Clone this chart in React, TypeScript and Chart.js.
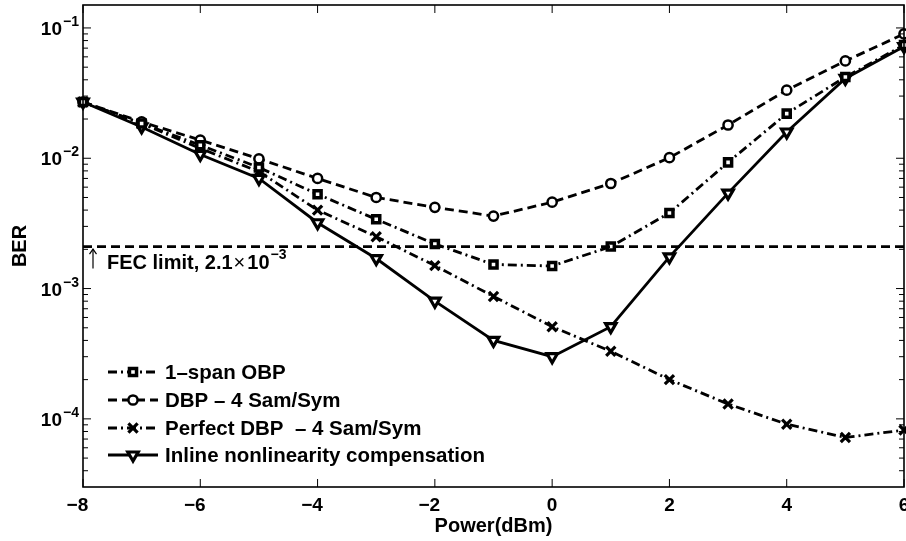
import React, { useEffect, useRef } from 'react';
import { Chart, registerables } from 'chart.js';

Chart.register(...registerables);

// ---- data ----
const powers = [-8, -7, -6, -5, -4, -3, -2, -1, 0, 1, 2, 3, 4, 5, 6];
const obpBer = [0.027, 0.0185, 0.0126, 0.0085, 0.0053, 0.0034, 0.0022, 0.00153, 0.00149, 0.0021, 0.0038, 0.0093, 0.022, 0.042, 0.074];
const dbpBer = [0.027, 0.019, 0.0138, 0.0099, 0.007, 0.005, 0.0042, 0.0036, 0.0046, 0.0064, 0.0101, 0.018, 0.0333, 0.0558, 0.09];
const perfectDbpBer = [0.027, 0.0185, 0.0119, 0.0079, 0.004, 0.0025, 0.0015, 0.00087, 0.00051, 0.00033, 0.0002, 0.00013, 0.000091, 0.000072, 0.000082];
const inlineBer = [0.027, 0.0174, 0.0107, 0.007, 0.0032, 0.0017, 0.0008, 0.0004, 0.0003, 0.00051, 0.00175, 0.0054, 0.0159, 0.041, 0.072];
const fecLimit = 2.1e-3;
const fecRange = [-8, 6];
const seriesLabels = ['1–span OBP', 'DBP – 4 Sam/Sym', 'Perfect DBP  – 4 Sam/Sym', 'Inline nonlinearity compensation'];
const xTickValues = [-8, -6, -4, -2, 0, 2, 4, 6];
const yDecadeExponents = [-4, -3, -2, -1];
const xAxisTitle = 'Power(dBm)';
const yAxisTitle = 'BER';
const fecText = 'FEC limit, 2.1';
const xMin = -8, xMax = 6, yMin = 3e-5, yMax = 0.15;

const FONT = '"Liberation Sans", Arial, Helvetica, sans-serif';
const DASH = [9, 5];
const DASHDOT = [9, 4, 2, 4];

const toPts = (ys: number[]) => powers.map((x, i) => ({ x, y: ys[i] }));

function drawMarker(ctx: CanvasRenderingContext2D, style: string, x: number, y: number, r: number, bw: number, rot: number) {
  ctx.save();
  ctx.setLineDash([]);
  ctx.lineWidth = bw;
  ctx.strokeStyle = '#000';
  ctx.fillStyle = '#fff';
  ctx.beginPath();
  if (style === 'circle') {
    ctx.arc(x, y, r, 0, Math.PI * 2);
    ctx.fill();
    ctx.stroke();
  } else if (style === 'rect') {
    const s = r * Math.SQRT1_2;
    ctx.rect(x - s, y - s, 2 * s, 2 * s);
    ctx.fill();
    ctx.stroke();
  } else if (style === 'crossRot') {
    const o = r * Math.SQRT1_2;
    ctx.moveTo(x - o, y - o); ctx.lineTo(x + o, y + o);
    ctx.moveTo(x - o, y + o); ctx.lineTo(x + o, y - o);
    ctx.stroke();
  } else if (style === 'triangle') {
    let rad = (rot * Math.PI) / 180;
    ctx.moveTo(x + Math.sin(rad) * r, y - Math.cos(rad) * r);
    rad += (2 * Math.PI) / 3;
    ctx.lineTo(x + Math.sin(rad) * r, y - Math.cos(rad) * r);
    rad += (2 * Math.PI) / 3;
    ctx.lineTo(x + Math.sin(rad) * r, y - Math.cos(rad) * r);
    ctx.closePath();
    ctx.fill();
    ctx.stroke();
  }
  ctx.restore();
}

const overlayPlugin = {
  id: 'overlay',
  afterDatasetsDraw(chart: any) {
    const { ctx, chartArea: a, scales } = chart;
    const xs = scales.x, ys = scales.y;
    ctx.save();
    ctx.strokeStyle = '#000';
    ctx.fillStyle = '#000';
    ctx.setLineDash([]);
    const seg = (x1: number, y1: number, x2: number, y2: number) => {
      ctx.beginPath(); ctx.moveTo(x1, y1); ctx.lineTo(x2, y2); ctx.stroke();
    };
    // box
    ctx.lineWidth = 1.6;
    ctx.strokeRect(a.left, a.top, a.right - a.left, a.bottom - a.top);
    // x ticks
    ctx.lineWidth = 1;
    for (const t of xTickValues) {
      const px = xs.getPixelForValue(t);
      seg(px, a.bottom, px, a.bottom - 8);
      seg(px, a.top, px, a.top + 8);
    }
    // y ticks (major + minor)
    for (let d = -5; d <= 0; d++) {
      for (let m = 1; m <= 9; m++) {
        const v = m * Math.pow(10, d);
        if (v < yMin * 1.0001 || v > yMax) continue;
        const py = ys.getPixelForValue(v);
        const len = m === 1 ? 8 : 5;
        seg(a.left, py, a.left + len, py);
        seg(a.right, py, a.right - len, py);
      }
    }
    // y tick labels
    for (const d of yDecadeExponents) {
      const py = ys.getPixelForValue(Math.pow(10, d));
      ctx.font = 'bold 19px ' + FONT;
      ctx.textAlign = 'right';
      ctx.textBaseline = 'alphabetic';
      ctx.fillText('10', a.left - 21, py + 7);
      ctx.font = 'bold 14px ' + FONT;
      ctx.textAlign = 'left';
      ctx.fillText('−' + String(-d), a.left - 20, py - 2);
    }
    // x tick labels
    ctx.font = 'bold 19px ' + FONT;
    ctx.textBaseline = 'alphabetic';
    ctx.textAlign = 'left';
    for (const t of xTickValues) {
      const px = xs.getPixelForValue(t);
      const digits = String(Math.abs(t));
      const dw = ctx.measureText(digits).width;
      const mw = t < 0 ? ctx.measureText('−').width : 0;
      ctx.fillText((t < 0 ? '−' : '') + digits, px - dw / 2 - mw, a.bottom + 24);
    }
    // axis titles
    ctx.font = 'bold 20px ' + FONT;
    ctx.textAlign = 'center';
    ctx.fillText(xAxisTitle, (a.left + a.right) / 2, a.bottom + 45);
    ctx.save();
    ctx.translate(20, (a.top + a.bottom) / 2);
    ctx.rotate(-Math.PI / 2);
    ctx.textBaseline = 'middle';
    ctx.fillText(yAxisTitle, 0, 0);
    ctx.restore();
    // FEC annotation
    const fy = ys.getPixelForValue(fecLimit) + 22;
    ctx.lineWidth = 1.2;
    const ax = a.left + 10;
    seg(ax, fy, ax, fy - 19);
    ctx.beginPath();
    ctx.moveTo(ax - 3.5, fy - 14.5);
    ctx.lineTo(ax, fy - 19.5);
    ctx.lineTo(ax + 3.5, fy - 14.5);
    ctx.stroke();
    ctx.textAlign = 'left';
    ctx.textBaseline = 'alphabetic';
    ctx.font = 'bold 20px ' + FONT;
    let cx = a.left + 24;
    ctx.fillText(fecText, cx, fy);
    cx += ctx.measureText(fecText).width + 1;
    ctx.font = '20px ' + FONT;
    ctx.fillText('×', cx, fy);
    cx += ctx.measureText('×').width + 2;
    ctx.font = 'bold 20px ' + FONT;
    ctx.fillText('10', cx, fy);
    cx += ctx.measureText('10').width + 1;
    ctx.font = 'bold 14px ' + FONT;
    ctx.fillText('−3', cx, fy - 10);
    // legend
    const rows = [379, 407, 435, 462];
    const dsList = chart.data.datasets.filter((d: any) => d.inLegend);
    dsList.forEach((ds: any, i: number) => {
      const by = rows[i];
      const cy = by - 7;
      ctx.save();
      ctx.lineWidth = ds.borderWidth;
      ctx.setLineDash(ds.borderDash || []);
      ctx.beginPath();
      ctx.moveTo(a.left + 25, cy);
      ctx.lineTo(a.left + 75, cy);
      ctx.stroke();
      ctx.restore();
      drawMarker(ctx, ds.pointStyle, a.left + 50, cy, ds.pointRadius, ds.pointBorderWidth, ds.pointRotation || 0);
      ctx.font = 'bold 20.5px ' + FONT;
      ctx.textAlign = 'left';
      ctx.textBaseline = 'alphabetic';
      ctx.fillStyle = '#000';
      ctx.fillText(ds.label, a.left + 82, by);
    });
    ctx.restore();
  },
};

export default function App() {
  const ref = useRef<HTMLCanvasElement | null>(null);
  useEffect(() => {
    if (!ref.current) return;
    const common = {
      borderColor: '#000',
      pointBorderColor: '#000',
      pointBackgroundColor: '#fff',
      fill: false,
      tension: 0,
      clip: false as any,
    };
    const chart = new Chart(ref.current, {
      type: 'line',
      data: {
        datasets: [
          {
            ...common,
            label: 'FEC limit',
            data: fecRange.map((x) => ({ x, y: fecLimit })),
            borderWidth: 2.8,
            borderDash: DASH,
            pointRadius: 0,
            inLegend: false,
          } as any,
          {
            ...common,
            label: seriesLabels[0],
            data: toPts(obpBer),
            borderWidth: 2.8,
            borderDash: DASHDOT,
            pointStyle: 'rect',
            pointRadius: 5,
            pointBorderWidth: 3.5,
            inLegend: true,
          } as any,
          {
            ...common,
            label: seriesLabels[1],
            data: toPts(dbpBer),
            borderWidth: 2.8,
            borderDash: DASH,
            pointStyle: 'circle',
            pointRadius: 4.6,
            pointBorderWidth: 2.5,
            inLegend: true,
          } as any,
          {
            ...common,
            label: seriesLabels[2],
            data: toPts(perfectDbpBer),
            borderWidth: 2.8,
            borderDash: DASHDOT,
            pointStyle: 'crossRot',
            pointRadius: 6.5,
            pointBorderWidth: 3.2,
            inLegend: true,
          } as any,
          {
            ...common,
            label: seriesLabels[3],
            data: toPts(inlineBer),
            borderWidth: 2.8,
            borderDash: [],
            pointStyle: 'triangle',
            pointRotation: 180,
            pointRadius: 6,
            pointBorderWidth: 3.2,
            inLegend: true,
          } as any,
        ],
      },
      options: {
        responsive: false,
        animation: false,
        layout: { autoPadding: false, padding: { left: 83, right: 2, top: 5, bottom: 54 } },
        plugins: { legend: { display: false }, tooltip: { enabled: false } },
        scales: {
          x: { type: 'linear', min: xMin, max: xMax, display: false, ticks: { display: false }, grid: { display: false } },
          y: { type: 'logarithmic', min: yMin, max: yMax, display: false, ticks: { display: false }, grid: { display: false } },
        },
      },
      plugins: [overlayPlugin],
    });
    return () => chart.destroy();
  }, []);
  return (
    <div style={{ position: 'absolute', left: 0, top: 0, width: 906, height: 541, background: '#fff' }}>
      <canvas ref={ref} width={906} height={541} style={{ display: 'block' }} />
    </div>
  );
}
